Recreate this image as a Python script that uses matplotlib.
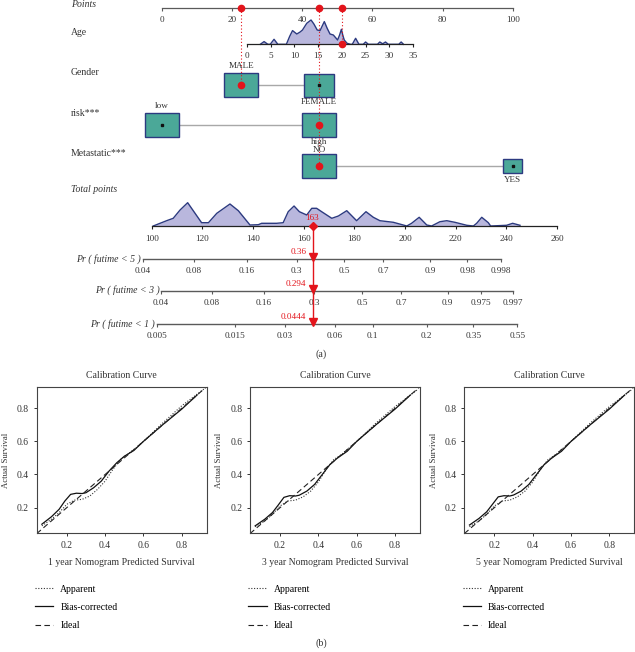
import numpy as np
import matplotlib
matplotlib.use('Agg')
import matplotlib.pyplot as plt
from matplotlib import transforms
from matplotlib.patches import Rectangle

plt.rcParams['font.family'] = ['Liberation Serif', 'DejaVu Serif']

# ---------------- nomogram data ----------------
points_ticks = [0, 20, 40, 60, 80, 100]

age_ticks = [0, 5, 10, 15, 20, 25, 30, 35]
age_pts0, age_slope = 24.24, 1.3524          # points = age_pts0 + age_slope * age

gender_levels = ['MALE', 'FEMALE']
gender_points = [22.6, 44.8]
risk_levels = ['low', 'high']
risk_points = [0.0, 44.8]
meta_levels = ['NO', 'YES']
meta_points = [44.8, 100.0]

# patient shown in red
patient_age = 20
patient_gender = 'MALE'
patient_risk = 'high'
patient_meta = 'NO'

# age density (age, relative height)
age_dens_x = [2.8, 3.6, 4.4, 4.9, 5.7, 6.5, 8.3, 9.0, 9.6, 10.5, 11.2, 11.7, 12.6, 13.5, 14.1,
              14.8, 15.4, 16.3, 16.9, 17.5, 18.2, 18.8, 19.1, 19.5, 19.9, 20.2, 20.5, 21.1,
              21.8, 22.2, 22.9, 23.6, 24.5, 25.0, 25.6, 27.5, 28.0, 28.6, 29.2, 29.8, 32.0,
              32.5, 33.0]
age_dens_h = [0, 2.7, 0, 0, 5, 0, 0, 8, 13.7, 10.3, 12.3, 14.3, 21, 24.3, 20.3,
              14.3, 13.7, 22.7, 16, 10.3, 9.3, 6, 4.3, 9, 15, 9, 4.3, 1,
              0, 0, 6, 0, 0, 2.3, 0, 0, 2.3, 0.5, 2.3, 0, 0,
              2.3, 0]

total_ticks = [100, 120, 140, 160, 180, 200, 220, 240, 260]
tot_dens_x = [100.6, 103.3, 105.9, 108.5, 111.2, 114.2, 116.4, 119.7, 122.4, 125.7, 130.9,
              134.2, 138.8, 142.1, 143.4, 149.3, 151.9, 153.9, 156.2, 158.3, 161.2, 163.2,
              165.1, 167.1, 171.1, 173.7, 177.0, 180.9, 184.6, 187.5, 190.1, 195.4, 199.3,
              200.7, 202.6, 205.6, 208.6, 210.5, 213.8, 216.5, 219.7, 224.4, 227.0, 228.3,
              230.3, 232.9, 233.8, 240.1, 242.5, 245.4]
tot_dens_h = [0, 2.7, 5.3, 7.7, 16, 23.3, 15.3, 3.3, 3.3, 12.7, 22,
              15.3, 1, 1.3, 2.7, 2.7, 3.3, 14.3, 20, 14.3, 11, 17.7,
              17.7, 14.3, 7.7, 10, 15.3, 5.3, 14.3, 8.7, 5.3, 3.7, 1,
              0, 2.7, 8.7, 1, 0, 4.3, 5.3, 3.7, 0.7, 0, 2.7,
              8.7, 3.3, 0, 0.7, 2.7, 0.7]

# probability scales: tick labels and their total-points positions
pr5_labels = ['0.04', '0.08', '0.16', '0.3', '0.5', '0.7', '0.9', '0.98', '0.998']
pr5_total = [96.4, 116.6, 137.5, 157.2, 176.0, 191.4, 209.9, 224.6, 237.8]
pr3_labels = ['0.04', '0.08', '0.16', '0.3', '0.5', '0.7', '0.9', '0.975', '0.997']
pr3_total = [103.6, 123.7, 144.3, 164.1, 183.1, 198.4, 216.8, 230.0, 242.7]
pr1_labels = ['0.005', '0.015', '0.03', '0.06', '0.1', '0.2', '0.35', '0.55']
pr1_total = [102.0, 132.9, 152.6, 172.4, 187.2, 208.6, 227.0, 244.3]
patient_probs = ['0.36', '0.294', '0.0444']

# ---------------- calibration data ----------------
cal_titles = ['1 year Nomogram Predicted Survival',
              '3 year Nomogram Predicted Survival',
              '5 year Nomogram Predicted Survival']
bias_x = [0.07, 0.12, 0.16, 0.19, 0.22, 0.25, 0.28, 0.30, 0.34, 0.38, 0.42, 0.46, 0.50, 0.55, 0.60, 0.70, 0.80, 0.88]
bias_y1 = [0.10, 0.145, 0.19, 0.24, 0.28, 0.287, 0.285, 0.29, 0.32, 0.36, 0.42, 0.47, 0.51, 0.545, 0.60, 0.70, 0.795, 0.88]
bias_y3 = [0.09, 0.13, 0.17, 0.215, 0.262, 0.272, 0.27, 0.275, 0.30, 0.34, 0.40, 0.46, 0.50, 0.54, 0.60, 0.70, 0.795, 0.88]
bias_y5 = [0.095, 0.135, 0.175, 0.22, 0.265, 0.272, 0.27, 0.276, 0.30, 0.34, 0.40, 0.46, 0.50, 0.54, 0.60, 0.70, 0.795, 0.88]
app_x = [0.07, 0.12, 0.16, 0.20, 0.24, 0.28, 0.32, 0.36, 0.40, 0.44, 0.48, 0.52, 0.56, 0.60, 0.70, 0.80, 0.92]
app_y1 = [0.09, 0.13, 0.17, 0.22, 0.245, 0.25, 0.27, 0.31, 0.36, 0.43, 0.49, 0.525, 0.56, 0.60, 0.71, 0.815, 0.92]
app_y3 = [0.085, 0.12, 0.16, 0.21, 0.24, 0.245, 0.265, 0.30, 0.355, 0.43, 0.49, 0.52, 0.56, 0.60, 0.71, 0.81, 0.915]
app_y5 = [0.085, 0.12, 0.16, 0.21, 0.24, 0.245, 0.265, 0.30, 0.355, 0.43, 0.49, 0.52, 0.56, 0.60, 0.71, 0.81, 0.915]

# ---------------- styles ----------------
RED = '#E3141B'
TEAL = '#4BA898'
NAVY = '#2C3A80'
LAV = '#B9B7DD'
LINE = '#5A5A5A'
TXT = '#333333'
FS = 6.6

W, H = 635, 652
fig = plt.figure(figsize=(W / 100, H / 100), dpi=100)

top_h = 345
ax = fig.add_axes([0, 1 - top_h / H, 1, top_h / H])
ax.set_xlim(-162 / 3.507, (W - 162) / 3.507)
ax.set_ylim(top_h, 0)
ax.axis('off')

ax2 = fig.add_axes([0, 1 - top_h / H, 1, top_h / H])
ax2.set_xlim(100 - 151.7 / 2.533, 100 + (W - 151.7) / 2.533)
ax2.set_ylim(top_h, 0)
ax2.axis('off')
ax2.patch.set_visible(False)

lab_tr = transforms.blended_transform_factory(ax.transAxes, ax.transData)
lx = 71 / W
ax.text(lx, 4.5, 'Points', transform=lab_tr, style='italic', fontsize=FS + 0.4, va='center', color=TXT)
ax.text(lx, 32.5, 'Age', transform=lab_tr, fontsize=FS + 0.4, va='center', color=TXT)
ax.text(lx, 72.5, 'Gender', transform=lab_tr, fontsize=FS + 0.4, va='center', color=TXT)
ax.text(lx, 113.5, 'risk***', transform=lab_tr, fontsize=FS + 0.4, va='center', color=TXT)
ax.text(lx, 153, 'Metastatic***', transform=lab_tr, fontsize=FS + 0.4, va='center', color=TXT)
ax.text(lx, 189, 'Total points', transform=lab_tr, style='italic', fontsize=FS + 0.4, va='center', color=TXT)

# Points axis
y_pts = 8
ax.plot([points_ticks[0], points_ticks[-1]], [y_pts, y_pts], color=LINE, lw=0.9)
ax.vlines(points_ticks, y_pts, y_pts + 2.5, color=LINE, lw=0.8)
for t in points_ticks:
    ax.text(t, 20, str(t), ha='center', va='center', fontsize=FS, color=TXT)

# Age axis + density
y_age = 44.3
age_pts = lambda a: age_pts0 + age_slope * np.asarray(a, dtype=float)
dx = age_pts(age_dens_x)
ax.fill_between(dx, y_age, y_age - np.array(age_dens_h), color=LAV, lw=0)
ax.plot(dx, y_age - np.array(age_dens_h), color=NAVY, lw=1.0)
ax.plot(age_pts([age_ticks[0], age_ticks[-1]]), [y_age, y_age], color='#222222', lw=0.9)
ax.vlines(age_pts(age_ticks), y_age, y_age + 2.5, color='#222222', lw=0.8)
for t in age_ticks:
    ax.text(age_pts(t), 56.5, str(t), ha='center', va='center', fontsize=FS, color=TXT)

# categorical rows: levels, points, y, box sizes px, label offsets (above, below), chosen level
rows = [
    (gender_levels, gender_points, 85, [(34, 24), (30, 23)], (7, 6), patient_gender),
    (risk_levels, risk_points, 125, [(34, 24), (34, 24)], (7, 4.5), patient_risk),
    (meta_levels, meta_points, 166, [(34, 24), (19, 14)], (4.5, 7.5), patient_meta),
]
for levels, pts, y, sizes, offs, chosen in rows:
    ax.plot(pts, [y, y], color='#A8A8A8', lw=1.0, zorder=1)
    for i, (lev, p, (bw, bh)) in enumerate(zip(levels, pts, sizes)):
        w = bw / 3.507
        ax.add_patch(Rectangle((p - w / 2, y - bh / 2), w, bh, facecolor=TEAL,
                               edgecolor=NAVY, lw=1.0, zorder=2))
        ly = y - bh / 2 - offs[0] if i == 0 else y + bh / 2 + offs[1]
        ax.text(p, ly, lev, ha='center', va='center', fontsize=FS, color=TXT, zorder=4)
        if lev == chosen:
            ax.plot(p, y, 'o', color=RED, ms=4.5, zorder=5)
        else:
            ax.plot(p, y, 's', color='#111111', ms=1.6, zorder=5)

# patient points on the points scale and dotted guides
g_p = gender_points[gender_levels.index(patient_gender)]
r_p = risk_points[risk_levels.index(patient_risk)]
m_p = meta_points[meta_levels.index(patient_meta)]
a_p = float(age_pts(patient_age))
ax.plot(a_p, y_age, 'o', color=RED, ms=4.5, zorder=5)
for p, ybot in [(g_p, 85), (m_p, 166), (a_p, y_age)]:
    ax.plot([p, p], [y_pts, ybot], color=RED, lw=0.8, ls=(0, (1, 2)), zorder=3)
ax.plot([g_p, m_p, a_p], [y_pts] * 3, 'o', color=RED, ms=4.5, zorder=5)

# Total points axis + density
y_tot = 226
tdh = np.array(tot_dens_h)
ax2.fill_between(tot_dens_x, y_tot, y_tot - tdh, color=LAV, lw=0)
ax2.plot(tot_dens_x, y_tot - tdh, color=NAVY, lw=1.0)
ax2.plot([total_ticks[0], total_ticks[-1]], [y_tot, y_tot], color='#222222', lw=0.9)
ax2.vlines(total_ticks, y_tot, y_tot + 2.5, color='#222222', lw=0.8)
for t in total_ticks:
    ax2.text(t, 239.3, str(t), ha='center', va='center', fontsize=FS, color=TXT)

# probability axes
pr_rows = [
    ('Pr ( futime < 5 )', pr5_labels, pr5_total, 259.3),
    ('Pr ( futime < 3 )', pr3_labels, pr3_total, 291.0),
    ('Pr ( futime < 1 )', pr1_labels, pr1_total, 324.3),
]
for name, labs, pos, y in pr_rows:
    ax2.plot([pos[0], pos[-1]], [y, y], color=LINE, lw=1.0)
    ax2.vlines(pos, y, y + 2.5, color=LINE, lw=0.8)
    for l, p in zip(labs, pos):
        ax2.text(p, y + 12, l, ha='center', va='center', fontsize=FS, color=TXT)
    ax2.text(pos[0] - 0.6, y - 0.5, name, ha='right', va='center', style='italic',
             fontsize=FS + 0.4, color=TXT)

total = g_p + r_p + m_p + a_p
ax2.plot([total, total], [y_tot, pr_rows[-1][3] - 2], color=RED, lw=1.0, zorder=5)
ax2.plot(total, y_tot, 'D', color=RED, ms=4.5, zorder=6)
ax2.text(total, 217.5, str(int(total)), color=RED, ha='center', va='center', fontsize=FS, zorder=6)
for (name, labs, pos, y), pv in zip(pr_rows, patient_probs):
    ax2.plot(total, y - 2, 'v', color=RED, ms=5.5, zorder=6)
    ax2.text(total - 2.4, y - 7.5, pv, color=RED, ha='right', va='center', fontsize=FS, zorder=6)

fig.text(321 / W, 1 - 354 / H, '(a)', ha='center', va='center', fontsize=FS + 0.6, color=TXT)

# ---------------- calibration curves ----------------
cal_lefts = [36.7, 250.0, 464.3]
bias_ys = [bias_y1, bias_y3, bias_y5]
app_ys = [app_y1, app_y3, app_y5]
ax_top, ax_bot = 386.7, 533.3
for left, xl, by, ay in zip(cal_lefts, cal_titles, bias_ys, app_ys):
    c = fig.add_axes([left / W, 1 - ax_bot / H, 170 / W, (ax_bot - ax_top) / H])
    lim = (0.043, 0.93)
    c.set_xlim(lim)
    c.set_ylim(0.045, 0.93)
    c.plot(app_x, ay, color='#333333', lw=0.8, ls=(0, (1, 1.5)), label='Apparent')
    c.plot(bias_x, by, color='#111111', lw=0.9, ls='-', label='Bias-corrected')
    c.plot(lim, lim, color='#222222', lw=0.8, ls=(0, (5, 3)), label='Ideal')
    c.set_xticks([0.2, 0.4, 0.6, 0.8])
    c.set_yticks([0.2, 0.4, 0.6, 0.8])
    c.tick_params(labelsize=FS + 0.3, length=2.5, width=0.7, pad=3, colors=TXT)
    for s in c.spines.values():
        s.set_color('#444444')
        s.set_linewidth(0.8)
    c.set_title('Calibration Curve', fontsize=FS + 0.4, pad=6, color=TXT)
    c.set_xlabel(xl, fontsize=FS + 0.4, labelpad=6, color=TXT)
    c.set_ylabel('Actual Survival', fontsize=FS - 0.4, labelpad=5, color=TXT)
    c.legend(loc='upper left', bbox_to_anchor=(-0.01, -0.35), frameon=False,
             fontsize=FS + 0.4, handlelength=1.9, handletextpad=0.7, labelspacing=0.95,
             borderpad=0, borderaxespad=0)

fig.text(321 / W, 1 - 642.7 / H, '(b)', ha='center', va='center', fontsize=FS + 0.6, color=TXT)

fig.savefig('out.png', dpi=100)
